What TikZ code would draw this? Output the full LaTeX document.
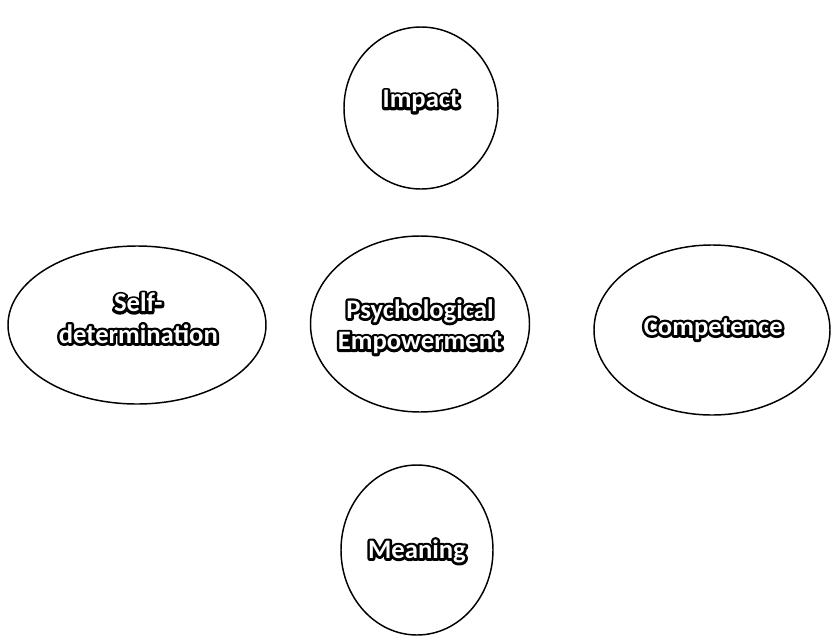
\documentclass[tikz,border=0pt]{standalone}
\usepackage{fontspec}
\setmainfont{Carlito}
\usetikzlibrary{shapes.geometric}
\newcommand{\otxt}[1]{\makebox[0pt][l]{\special{pdf:literal direct 0 G 1 Tr 3.8 w 1 j}#1\special{pdf:literal direct 0 Tr 1 w 0 j}}{\color{white}#1}}
\begin{document}
\begin{tikzpicture}[x=0.75pt,y=-0.75pt]
\useasboundingbox (0,0) rectangle (833,643);
\tikzset{
  oval/.style={draw=black, line width=1.1pt, ellipse, inner sep=0pt},
  lbl/.style={font=\bfseries\fontsize{20}{23.5}\selectfont, align=center}
}
\node[oval, minimum width=154*0.75pt, minimum height=162*0.75pt] (impact) at (421,108) {};
\node[oval, minimum width=258*0.75pt, minimum height=158*0.75pt] (self) at (137,325) {};
\node[oval, minimum width=219*0.75pt, minimum height=176*0.75pt] (psy) at (420,324) {};
\node[oval, minimum width=236*0.75pt, minimum height=170*0.75pt] (comp) at (712,330) {};
\node[oval, minimum width=152*0.75pt, minimum height=170*0.75pt] (mean) at (417,550) {};
\node[lbl] (impactt) at ([yshift=5pt]impact.center) {\otxt{Impact}};
\node[lbl] (selft) at ([xshift=1pt,yshift=5pt]self.center) {\otxt{Self-}\\\otxt{determination}};
\node[lbl] (psyt) at ([yshift=-2pt]psy.center) {\otxt{Psychological}\\\otxt{Empowerment}};
\node[lbl] (compt) at ([xshift=1pt,yshift=1pt]comp.center) {\otxt{Competence}};
\node[lbl] (meant) at ([yshift=-1pt]mean.center) {\otxt{Meaning}};
\end{tikzpicture}
\end{document}
